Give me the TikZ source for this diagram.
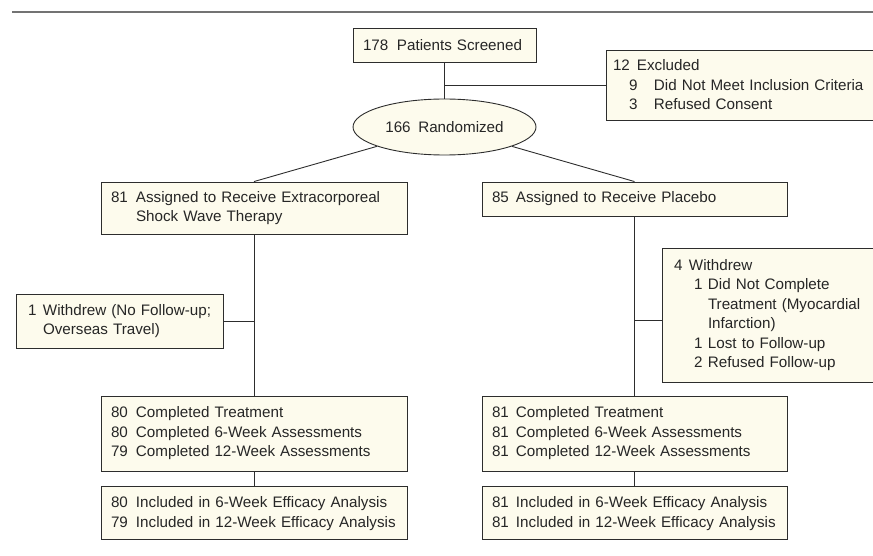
\documentclass[tikz,border=0pt]{standalone}
\usepackage{fontspec}
\setmainfont{Liberation Sans}
\usetikzlibrary{shapes.geometric, positioning}
\definecolor{boxFill}{RGB}{253,251,237}
\definecolor{edgeGray}{RGB}{45,45,45}
\definecolor{ruleGray}{RGB}{115,115,115}
\newcommand{\cnt}[2][24pt]{\makebox[#1][l]{#2}}

\begin{document}
\begin{tikzpicture}[x=1pt, y=-1pt,
  font=\fontsize{15.2}{19.5}\selectfont,
  box/.style={rectangle, draw=edgeGray, fill=boxFill, line width=0.9pt,
              inner xsep=10pt, inner ysep=0pt, align=left, text=black!85},
  ovl/.style={ellipse, draw=edgeGray, fill=boxFill, line width=0.9pt,
              minimum width=183pt, minimum height=56pt, inner sep=0pt, text=black!85},
  link/.style={draw=edgeGray, line width=0.9pt},
  rule/.style={draw=ruleGray, line width=1.8pt},
]
  \useasboundingbox (0,0) rectangle (873,556);
  \draw[rule] (12,12) -- (873,12);

  % Top: screening and randomization
  \node[box, text width=163pt, minimum height=34pt] (screen) at (444.5,45)
    {\cnt[34pt]{178}Patients Screened};
  \node[ovl] (rand) at (444.5,127) {\cnt[33pt]{166}Randomized};
  \node[box, text width=255pt, inner xsep=7pt, minimum height=70pt] (excl) at (740.5,85)
    {\cnt{12}Excluded\\
     \hspace*{16pt}\cnt[25pt]{9}Did Not Meet Inclusion Criteria\\
     \hspace*{16pt}\cnt[25pt]{3}Refused Consent};

  \draw[link] (screen) -- (rand);
  \draw[link] (excl.west) -- (excl.west -| screen.south);

  % Left arm: shock wave therapy
  \node[box, text width=286pt, minimum height=52pt] (eswt) at (254,208)
    {\cnt[25pt]{81}Assigned to Receive Extracorporeal\\
     \hspace*{25pt}Shock Wave Therapy};
  \node[box, text width=195pt, inner xsep=6pt, minimum height=54pt] (wdL) at (119.5,321)
    {\hspace*{6pt}\cnt[15pt]{1}Withdrew (No Follow-up;\\
     \hspace*{21pt}Overseas Travel)};
  \node[box, text width=286pt, minimum height=75pt] (compL) at (254,433.5)
    {\cnt[25pt]{80}Completed Treatment\\
     \cnt[25pt]{80}Completed 6-Week Assessments\\
     \cnt[25pt]{79}Completed 12-Week Assessments};
  \node[box, text width=286pt, minimum height=53pt, below=15pt of compL] (inclL)
    {\cnt[25pt]{80}Included in 6-Week Efficacy Analysis\\
     \cnt[25pt]{79}Included in 12-Week Efficacy Analysis};

  % Right arm: placebo
  \node[box, text width=285pt, minimum height=34pt] (plac) at (634.5,199)
    {\cnt{85}Assigned to Receive Placebo};
  \node[box, text width=189pt, inner xsep=12pt, minimum height=134pt] (wdR) at (768.5,315)
    {\cnt[15pt]{4}Withdrew\\
     \hspace*{20pt}\cnt[14pt]{1}Did Not Complete\\
     \hspace*{34pt}Treatment (Myocardial\\
     \hspace*{34pt}Infarction)\\
     \hspace*{20pt}\cnt[14pt]{1}Lost to Follow-up\\
     \hspace*{20pt}\cnt[14pt]{2}Refused Follow-up};
  \node[box, text width=285pt, minimum height=75pt] (compR) at (634.5,433.5)
    {\cnt{81}Completed Treatment\\
     \cnt{81}Completed 6-Week Assessments\\
     \cnt{81}Completed 12-Week Assessments};
  \node[box, text width=285pt, minimum height=53pt, below=15pt of compR] (inclR)
    {\cnt{81}Included in 6-Week Efficacy Analysis\\
     \cnt{81}Included in 12-Week Efficacy Analysis};

  \coordinate (jR) at (634.5,320);

  \draw[link] (rand) -- (eswt.north);
  \draw[link] (rand) -- (plac.north);
  \draw[link] (eswt) -- (compL);
  \draw[link] (compL) -- (inclL);
  \draw[link] (wdL.east) -- (wdL.east -| eswt.south);
  \draw[link] (plac) -- (compR);
  \draw[link] (compR) -- (inclR);
  \draw[link] (jR) -- (jR -| wdR.west);
\end{tikzpicture}
\end{document}
